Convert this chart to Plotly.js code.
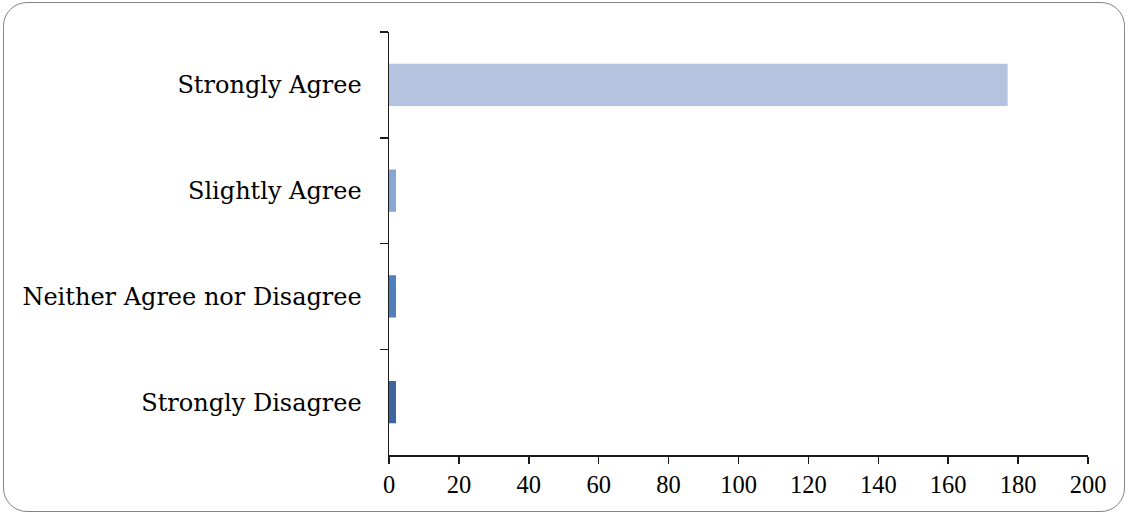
<!DOCTYPE html>
<html>
<head>
<meta charset="utf-8">
<script src="https://cdn.plot.ly/plotly-3.0.1.min.js"></script>
<style>
  html, body { margin: 0; padding: 0; background: #fff; }
  #wrap { position: relative; width: 1128px; height: 515px; }
  #chart { position: absolute; left: 0; top: 0; width: 1128px; height: 515px; }
  #frame { position: absolute; left: 3px; top: 2px; width: 1120px; height: 508px;
           border: 1.5px solid #858585; border-radius: 24px; pointer-events: none; }
</style>
</head>
<body>
<div id="wrap">
  <div id="chart"></div>
  <div id="frame"></div>
</div>
<script>
// Categories listed top to bottom as in the chart
const categories = ["Strongly Agree", "Slightly Agree", "Neither Agree nor Disagree", "Strongly Disagree"];
const counts = [177, 2, 2, 2];
const barColors = ["#b4c3de", "#8aa6d4", "#4f7fbd", "#3d66a0"];
const xTickValues = [0, 20, 40, 60, 80, 100, 120, 140, 160, 180, 200];

const tickFont = { family: "Liberation Serif, serif", size: 24.5, color: "#000" };
const catFont = { family: "'DejaVu Serif', serif", size: 24, color: "#000" };

const trace = {
  type: "bar",
  orientation: "h",
  y: categories,
  x: counts,
  marker: { color: barColors, line: { width: 0 } },
  hoverinfo: "x+y"
};

const layout = {
  width: 1128,
  height: 515,
  margin: { l: 389, r: 40, t: 32, b: 60 },
  paper_bgcolor: "rgba(0,0,0,0)",
  plot_bgcolor: "rgba(0,0,0,0)",
  font: tickFont,
  showlegend: false,
  bargap: 0.6,
  xaxis: {
    range: [0, 200],
    tickvals: xTickValues,
    ticktext: xTickValues.map(String),
    showgrid: false,
    zeroline: false,
    showline: true,
    linecolor: "#1a1a1a",
    linewidth: 1.5,
    ticks: "outside",
    ticklen: 7,
    tickwidth: 1.5,
    tickcolor: "#1a1a1a",
    tickfont: tickFont,
    fixedrange: true
  },
  yaxis: {
    type: "category",
    categoryorder: "array",
    categoryarray: categories,
    autorange: "reversed",
    showgrid: false,
    zeroline: false,
    showline: true,
    linecolor: "#1a1a1a",
    linewidth: 1.5,
    ticks: "outside",
    tickson: "boundaries",
    ticklen: 8,
    tickwidth: 1.5,
    tickcolor: "#1a1a1a",
    tickfont: catFont,
    ticklabelstandoff: 21,
    fixedrange: true
  }
};

Plotly.newPlot("chart", [trace], layout, { displayModeBar: false, staticPlot: true });
</script>
</body>
</html>
